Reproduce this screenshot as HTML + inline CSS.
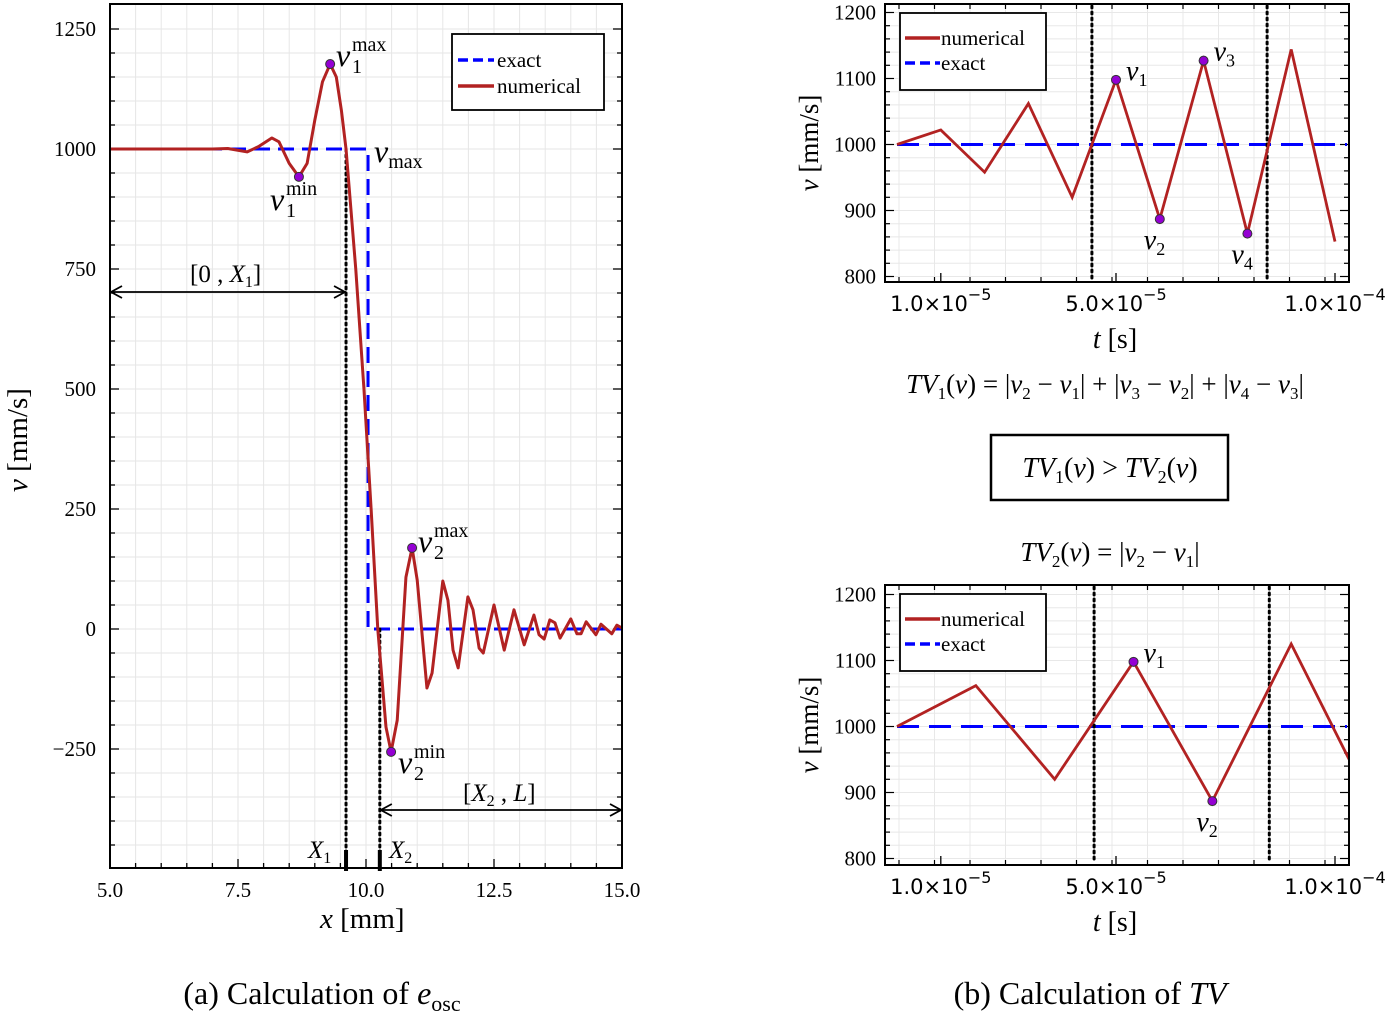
<!DOCTYPE html>
<html><head><meta charset="utf-8"><style>
body{margin:0;background:#fff}
svg{display:block}
text{font-family:"Liberation Serif",serif;fill:#000}
.sans{font-family:"DejaVu Sans","Liberation Sans",sans-serif}
</style></head><body>
<svg id="s" width="1392" height="1016" viewBox="0 0 1392 1016" xmlns="http://www.w3.org/2000/svg">
<g id="gA"></g>
<g id="gB"></g>
<g id="gC"></g>
<g id="gT">
<text x="322" y="1004" font-size="32" text-anchor="middle">(a) Calculation of <tspan font-style="italic">e</tspan><tspan font-size="22" dy="7">osc</tspan></text>
<text x="1090" y="1004" font-size="32" text-anchor="middle">(b) Calculation of <tspan font-style="italic">TV</tspan></text>
<text x="1105" y="393" font-size="27" text-anchor="middle"><tspan font-style="italic">TV</tspan><tspan font-size="17" dy="6">1</tspan><tspan dy="-6">(</tspan><tspan font-style="italic">v</tspan>) = |<tspan font-style="italic">v</tspan><tspan font-size="17" dy="6">2</tspan><tspan dy="-6"> − </tspan><tspan font-style="italic">v</tspan><tspan font-size="17" dy="6">1</tspan><tspan dy="-6">| + |</tspan><tspan font-style="italic">v</tspan><tspan font-size="17" dy="6">3</tspan><tspan dy="-6"> − </tspan><tspan font-style="italic">v</tspan><tspan font-size="17" dy="6">2</tspan><tspan dy="-6">| + |</tspan><tspan font-style="italic">v</tspan><tspan font-size="17" dy="6">4</tspan><tspan dy="-6"> − </tspan><tspan font-style="italic">v</tspan><tspan font-size="17" dy="6">3</tspan><tspan dy="-6">|</tspan></text>
<rect x="991" y="435" width="237" height="65" fill="none" stroke="#000" stroke-width="2.5"/>
<text x="1110" y="477" font-size="28" text-anchor="middle"><tspan font-style="italic">TV</tspan><tspan font-size="18" dy="6">1</tspan><tspan dy="-6">(</tspan><tspan font-style="italic">v</tspan>) &gt; <tspan font-style="italic">TV</tspan><tspan font-size="18" dy="6">2</tspan><tspan dy="-6">(</tspan><tspan font-style="italic">v</tspan>)</text>
<text x="1110" y="561" font-size="27" text-anchor="middle"><tspan font-style="italic">TV</tspan><tspan font-size="17" dy="6">2</tspan><tspan dy="-6">(</tspan><tspan font-style="italic">v</tspan>) = |<tspan font-style="italic">v</tspan><tspan font-size="17" dy="6">2</tspan><tspan dy="-6"> − </tspan><tspan font-style="italic">v</tspan><tspan font-size="17" dy="6">1</tspan><tspan dy="-6">|</tspan></text>
</g>
</svg>
<script>
// ---- plot (a) data ----
const aX = [5.0,7.0,7.3,7.68,7.9,8.16,8.3,8.5,8.69,8.85,9.0,9.15,9.3,9.42,9.52,9.61,9.8,9.96,10.1,10.23,10.39,10.49,10.61,10.78,10.9,11.0,11.19,11.29,11.5,11.6,11.7,11.8,11.99,12.09,12.21,12.29,12.5,12.7,12.89,13.09,13.28,13.38,13.48,13.59,13.69,13.79,14.0,14.12,14.2,14.3,14.49,14.59,14.8,14.9,15.0];
const aV = [1000,1000,1001,994,1005,1023,1015,970,942,970,1060,1140,1177,1150,1080,1000,750,500,250,0,-204,-256,-190,108,169,102,-123,-92,100,60,-44,-81,67,40,-40,-50,50,-44,40,-33,29,-12,-21,19,13,-19,21,-10,-10,15,-12,10,-10,8,2];
const exactX = [5.0,10.04,10.04,15.0];
const exactV = [1000,1000,0,0];
const aXTicks = [5.0,7.5,10.0,12.5,15.0];
const aYTicks = [1250,1000,750,500,250,0,-250];
const aMarkX = [9.3,8.69,10.9,10.49];
const aMarkV = [1177,942,169,-256];
const aCut = [9.61,10.27];
// ---- plot (b) data ----
const bT = [0,1,2,3,4,5,6,7,8,9,10];
const bV = [1000,1022,958,1062,920,1098,887,1127,865,1144,853];
const bMarkIdx = [5,6,7,8];
const cT = [0,1.8,3.6,5.4,7.2,9.0,10.4];
const cV = [1000,1062,920,1098,887,1125,940];
const cMarkIdx = [3,4];
const bCut = [4.45,8.45];
const cCut = [4.5,8.5];
const bTicks = [1,5,10];
const bTickLbl = ["1.0×10","5.0×10","1.0×10"];
const bTickExp = ["−5","−5","−4"];
const bYTicks = [1200,1100,1000,900,800];

const NS="http://www.w3.org/2000/svg";
function el(p,tag,attrs,txt){const e=document.createElementNS(NS,tag);for(const k in attrs)e.setAttribute(k,attrs[k]);if(txt!==undefined)e.textContent=txt;p.appendChild(e);return e;}

// ===== Plot A =====
(function(){
const g=document.getElementById('gA');
const L=110,R=622,T=4,B=868;
const sx=x=>L+(x-5)*(R-L)/10;
const sy=v=>629-v*0.48;
for(let x=5.5;x<15;x+=0.5){const l=el(g,'line',{x1:sx(x),x2:sx(x),y1:T,y2:B,stroke:'#e6e6e6','stroke-width':1});}
for(let v=-450;v<1300;v+=50){const l=el(g,'line',{x1:L,x2:R,y1:sy(v),y2:sy(v),stroke:'#e6e6e6','stroke-width':1});}
for(let x=5.5;x<15;x+=0.5){const big=Math.abs((x-5)/2.5-Math.round((x-5)/2.5))<1e-6;el(g,'line',{x1:sx(x),x2:sx(x),y1:B,y2:B-(big?9:5),stroke:'#000','stroke-width':1.3});}
for(let v=-450;v<1300;v+=50){const big=v%250===0;el(g,'line',{x1:L,x2:L+(big?9:5),y1:sy(v),y2:sy(v),stroke:'#000','stroke-width':1.3});el(g,'line',{x1:R,x2:R-(big?9:5),y1:sy(v),y2:sy(v),stroke:'#000','stroke-width':1.3});}
aXTicks.forEach(x=>{const t=el(g,'text',{x:sx(x),y:897,'font-size':21,'text-anchor':'middle'},x.toFixed(1));});
aYTicks.forEach(v=>{const t=el(g,'text',{x:96,y:sy(v)+7,'font-size':21,'text-anchor':'end'},v<0?'−'+(-v):String(v));});
const ep=el(g,'polyline',{points:exactX.map((x,i)=>sx(x)+','+sy(exactV[i])).join(' '),fill:'none',stroke:'#0000ff','stroke-width':3,'stroke-dasharray':'16,8'});

aCut.forEach((x,i)=>{const top=i===0?sy(1000):sy(0);const l=el(g,'line',{x1:sx(x),x2:sx(x),y1:top,y2:B,stroke:'#000','stroke-width':3,'stroke-dasharray':'2,4','stroke-linecap':'round'});
el(g,'line',{x1:sx(x),x2:sx(x),y1:B-18,y2:B+3,stroke:'#000','stroke-width':4});});
const np=el(g,'polyline',{points:aX.map((x,i)=>sx(x)+','+sy(aV[i])).join(' '),fill:'none',stroke:'#b22222','stroke-width':3,'stroke-linejoin':'round'});

aMarkX.forEach((x,i)=>{const c=el(g,'circle',{cx:sx(x),cy:sy(aMarkV[i]),r:4.5,fill:'#9400d3',stroke:'#333','stroke-width':1});});
el(g,'rect',{x:L,y:T,width:R-L,height:B-T,fill:'none',stroke:'#000','stroke-width':2});
function arrow(x1,x2,y,name){const a=el(g,'g',{});
el(a,'line',{x1:x1,x2:x2,y1:y,y2:y,stroke:'#000','stroke-width':1.8});
el(a,'polyline',{points:`${x1+12},${y-6} ${x1+1},${y} ${x1+12},${y+6}`,fill:'none',stroke:'#000','stroke-width':1.8});
el(a,'polyline',{points:`${x2-12},${y-6} ${x2-1},${y} ${x2-12},${y+6}`,fill:'none',stroke:'#000','stroke-width':1.8});}
arrow(L,sx(aCut[0]),292,'interval-0-x1');arrow(sx(aCut[1]),R,810,'interval-x2-l');
const lab=(x,y,html,fs,name)=>{const t=el(g,'text',{x:x,y:y,'font-size':fs||24});t.innerHTML=html;};
lab(190,282,'[0 , <tspan font-style="italic">X</tspan><tspan font-size="16" dy="5">1</tspan><tspan dy="-5">]</tspan>',25,'label-0-x1');
lab(463,801,'[<tspan font-style="italic">X</tspan><tspan font-size="16" dy="5">2</tspan><tspan dy="-5"> , </tspan><tspan font-style="italic">L</tspan>]',25,'label-x2-l');
lab(308,858,'<tspan font-style="italic">X</tspan><tspan font-size="16" dy="5">1</tspan>',25,'label-x1');
lab(389,858,'<tspan font-style="italic">X</tspan><tspan font-size="16" dy="5">2</tspan>',25,'label-x2');
function vlab(x,y,sub,sup,name){const a=el(g,'g',{});
el(a,'text',{x:x,y:y,'font-size':32,'font-style':'italic'},'v');
el(a,'text',{x:x+16,y:y+7,'font-size':20},sub);
el(a,'text',{x:x+16,y:y-15,'font-size':20},sup);}
vlab(336,66,'1','max','label-v1max');
vlab(270,210,'1','min','label-v1min');
vlab(418,552,'2','max','label-v2max');
vlab(398,773,'2','min','label-v2min');
lab(374,162,'<tspan font-style="italic">v</tspan><tspan font-size="20" dy="6">max</tspan>',32,'label-vmax');
lab(320,928,'<tspan font-style="italic">x</tspan> [mm]',29,'x-axis-title');
const yt=el(g,'text',{x:0,y:0,'font-size':29,'text-anchor':'middle',transform:'translate(27,440) rotate(-90)'});yt.innerHTML='<tspan font-style="italic">v</tspan> [mm/s]';
const lg=el(g,'g',{});
el(lg,'rect',{x:452,y:34,width:152,height:76,fill:'#fff',stroke:'#000','stroke-width':1.8});
el(lg,'line',{x1:458,x2:494,y1:60,y2:60,stroke:'#0000ff','stroke-width':3.5,'stroke-dasharray':'10,5'});
el(lg,'text',{x:497,y:67,'font-size':21},'exact');
el(lg,'line',{x1:458,x2:494,y1:86,y2:86,stroke:'#b22222','stroke-width':3.5});
el(lg,'text',{x:497,y:93,'font-size':21},'numerical');
})();

// ===== Plots B / C =====
function tvPlot(gid,T,B,ts,vs,mk,cuts,labels){
const g=document.getElementById(gid);
const L=885,R=1349;
const y1000=(T+B)/2+1.5;
const sx=t=>897+t*43.8;
const sy=v=>y1000-(v-1000)*0.66;
for(let x=L+14;x<R;x+=35.5){el(g,'line',{x1:x,x2:x,y1:T,y2:B,stroke:'#e8e8e8','stroke-width':1});el(g,'line',{x1:x,x2:x,y1:B,y2:B-5,stroke:'#000','stroke-width':1.2});el(g,'line',{x1:x,x2:x,y1:T,y2:T+5,stroke:'#000','stroke-width':1.2});}
for(let v=780;v<=1220;v+=20){const y=sy(v);if(y<=T||y>=B)continue;const big=v%100===0;el(g,'line',{x1:L,x2:R,y1:y,y2:y,stroke:'#e8e8e8','stroke-width':1});el(g,'line',{x1:L,x2:L+(big?9:5),y1:y,y2:y,stroke:'#000','stroke-width':1.2});el(g,'line',{x1:R,x2:R-(big?9:5),y1:y,y2:y,stroke:'#000','stroke-width':1.2});}
bYTicks.forEach(v=>{const t=el(g,'text',{x:876,y:sy(v)+7,'font-size':21,'text-anchor':'end'},String(v));});
bTicks.forEach((t,i)=>{const x=sx(t);el(g,'line',{x1:x,x2:x,y1:B,y2:B-9,stroke:'#000','stroke-width':1.3});
const tx=el(g,'text',{x:x,y:B+29,'font-size':21,'text-anchor':'middle',class:'sans'});tx.innerHTML=bTickLbl[i]+'<tspan font-size="16" dy="-11">'+bTickExp[i]+'</tspan>';});
const ex=el(g,'line',{x1:sx(ts[0]),x2:R-2,y1:sy(1000),y2:sy(1000),stroke:'#0000ff','stroke-width':3,'stroke-dasharray':'22,10'});
cuts.forEach(c=>{const l=el(g,'line',{x1:sx(c),x2:sx(c),y1:T+2,y2:B-2,stroke:'#000','stroke-width':3,'stroke-dasharray':'2,4','stroke-linecap':'round'});});
const cp=el(g,'clipPath',{id:gid+'clip'});el(cp,'rect',{x:L,y:T,width:R-L,height:B-T});
const np=el(g,'polyline',{points:ts.map((t,i)=>sx(t)+','+sy(vs[i])).join(' '),fill:'none',stroke:'#b22222','stroke-width':2.8,'clip-path':'url(#'+gid+'clip)'});
mk.forEach((k,i)=>{const c=el(g,'circle',{cx:sx(ts[k]),cy:sy(vs[k]),r:4.5,fill:'#9400d3',stroke:'#333','stroke-width':1});
const up=vs[k]>1000;const t=el(g,'text',{x:sx(ts[k])+(up?10:-16),y:sy(vs[k])+(up?0:30),'font-size':28});t.innerHTML='<tspan font-style="italic">v</tspan><tspan font-size="18" dy="6">'+labels[i]+'</tspan>';});
el(g,'rect',{x:L,y:T,width:R-L,height:B-T,fill:'none',stroke:'#000','stroke-width':2});
const xt=el(g,'text',{x:1115,y:B+66,'font-size':28,'text-anchor':'middle'});xt.innerHTML='<tspan font-style="italic">t</tspan> [s]';
const yt=el(g,'text',{x:0,y:0,'font-size':27,'text-anchor':'middle',transform:`translate(818,${(T+B)/2}) rotate(-90)`});yt.innerHTML='<tspan font-style="italic">v</tspan> [mm/s]';
const lg=el(g,'g',{});
el(lg,'rect',{x:900,y:T+9,width:146,height:77,fill:'#fff',stroke:'#000','stroke-width':1.8});
el(lg,'line',{x1:905,x2:940,y1:T+34,y2:T+34,stroke:'#b22222','stroke-width':3.5});
el(lg,'text',{x:941,y:T+41,'font-size':21},'numerical');
el(lg,'line',{x1:905,x2:940,y1:T+59,y2:T+59,stroke:'#0000ff','stroke-width':3.5,'stroke-dasharray':'10,5'});
el(lg,'text',{x:941,y:T+66,'font-size':21},'exact');
}
tvPlot('gB',4,282,bT,bV,bMarkIdx,bCut,['1','2','3','4']);
tvPlot('gC',585,865,cT,cV,cMarkIdx,cCut,['1','2']);
</script>
</body></html>
